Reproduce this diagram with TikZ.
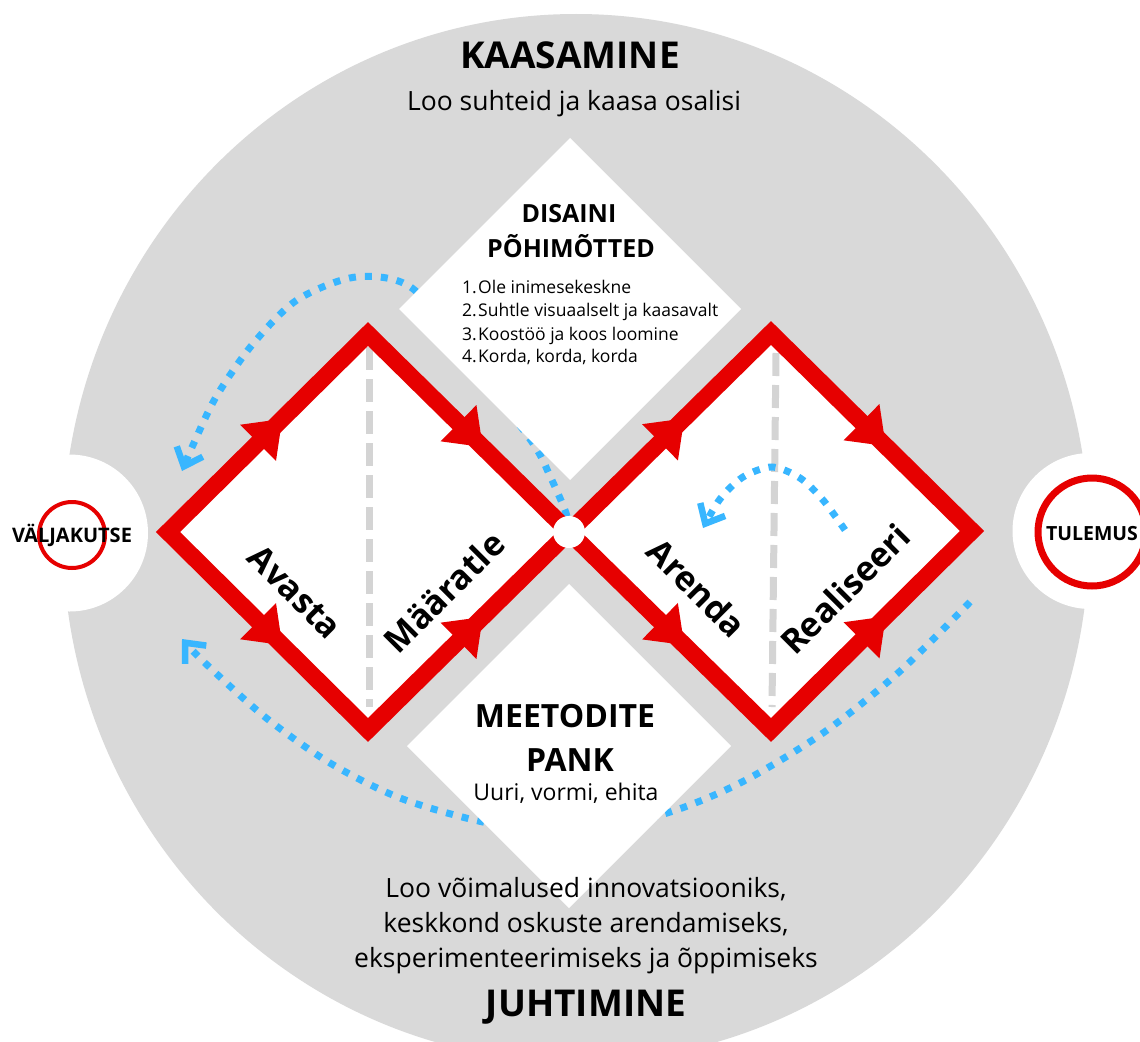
\documentclass[tikz,border=0pt]{standalone}
\usepackage{fontspec}
\setmainfont{Open Sans}
\usetikzlibrary{calc,arrows.meta}
\definecolor{bggray}{HTML}{D9D9D9}
\definecolor{dgray}{HTML}{D4D4D4}
\definecolor{redc}{HTML}{E60000}
\definecolor{bluec}{HTML}{38B6FF}
\newcommand\redtri[2]{%
  \coordinate (m) at ($(#1)!0.5!(#2)$);
  \coordinate (tp) at ($(m)!20pt!(#2)$);
  \coordinate (bs) at ($(m)!-14pt!(#2)$);
  \fill[redc] (tp) -- ($(bs)!25.5pt!90:(#2)$) -- ($(bs)!25.5pt!-90:(#2)$) -- cycle;}
\begin{document}
\begin{tikzpicture}[x=1pt,y=-1pt,
  redline/.style={draw=redc,line width=17pt,miter limit=10},
  dots/.style={draw=bluec,line width=7pt,dash pattern=on 7pt off 9pt},
  chev/.style={-{Straight Barb[length=16pt,width=28pt,line width=6.5pt]}},
  dashv/.style={draw=dgray,line width=7pt,dash pattern=on 23pt off 9pt},
  tbold/.style={font=\bfseries\fontsize{#1}{#1}\selectfont,inner sep=0pt},
  treg/.style={font=\fontsize{#1}{#1}\selectfont,inner sep=0pt},
]
\useasboundingbox (0,0) rectangle (1140,1041);
\fill[white] (0,0) rectangle (1140,1041);
% big gray disc
\fill[bggray] (576,538) ellipse [x radius=513, y radius=524];
% side white discs
\fill[white] (69.5,533) circle [radius=78.5];
\fill[white] (1090.5,531) circle [radius=78];
\node[circle,draw=redc,line width=4pt,minimum size=66pt,inner sep=0pt] (vc) at (72,535) {};
\node[tbold=20,anchor=base] (vt) at (72,542) {VÄLJAKUTSE};
\node[circle,draw=redc,line width=7pt,minimum size=108pt,inner sep=0pt] (tc) at (1092,532) {};
\node[tbold=19.5,anchor=base] (tt) at (1092,540) {TULEMUS};
% diamond vertices
\coordinate (LL) at (168,532);
\coordinate (LT) at (368,334);
\coordinate (LB) at (368,730);
\coordinate (X)  at (569,532);
\coordinate (RT) at (771,333);
\coordinate (RB) at (771,730);
\coordinate (RR) at (972,531);
% blue loops behind the white diamonds
\draw[dots,chev] plot[smooth] coordinates {(X) (566,513) (550,476) (532,442) (470,360) (412,288) (356,277) (297,300) (252,345) (216,397) (193,445) (182,471)};
\draw[dots,chev] plot[smooth] coordinates {(970,602) (898,673) (823,733) (742,782) (667,813) (570,835) (483,822) (400,798) (330,763) (265,717) (205,663) (182,639)};
% white diamonds
\fill[white] (570,138) -- (741,309) -- (570,480) -- (399,309) -- cycle;
\fill[white] (569,584) -- (731,746) -- (569,908) -- (407,746) -- cycle;
% red diamonds
\fill[white] (LL) -- (LT) -- (X) -- (LB) -- cycle;
\fill[white] (X) -- (RT) -- (RR) -- (RB) -- cycle;
\draw[dashv] (369,347) -- (369,707);
\draw[dashv] (776,353) -- (772,707);
\draw[redline] (LL) -- (LT) -- (X) -- (LB) -- cycle;
\draw[redline] (X) -- (RT) -- (RR) -- (RB) -- cycle;
\redtri{LL}{LT}
\redtri{LT}{X}
\redtri{LL}{LB}
\redtri{LB}{X}
\redtri{X}{RT}
\redtri{RT}{RR}
\redtri{X}{RB}
\redtri{RB}{RR}
% inner blue loop
\draw[dots,chev] plot[smooth] coordinates {(845,530) (823,500) (800,478) (772,467) (743,477) (720,499) (703,528)};
\node[circle,fill=white,minimum size=32pt,inner sep=0pt] (xc) at (X) {};
% phase labels
\node[tbold=34,rotate=-45] (avasta) at (295,592) {Avasta};
\node[tbold=34,rotate=45] (maaratle) at (444,592) {Määratle};
\node[tbold=34,rotate=-45] (arenda) at (697,588) {Arenda};
\node[tbold=34,rotate=45] (realiseeri) at (845,589) {Realiseeri};
% top texts
\node[tbold=37,anchor=base] (kaas) at (570,68) {KAASAMINE};
\node[treg=26.5,anchor=base] (kaassub) at (574,110) {Loo suhteid ja kaasa osalisi};
\node[tbold=25,anchor=base] (dis1) at (569,222) {DISAINI};
\node[tbold=25,anchor=base] (dis2) at (571,257) {PÕHIMÕTTED};
\node[treg=17.5,anchor=base west] (n1) at (462,293) {1.};
\node[treg=17.5,anchor=base west] (l1) at (478,293) {Ole inimesekeskne};
\node[treg=17.5,anchor=base west] (n2) at (462,316) {2.};
\node[treg=17.5,anchor=base west] (l2) at (478,316) {Suhtle visuaalselt ja kaasavalt};
\node[treg=17.5,anchor=base west] (n3) at (462,340) {3.};
\node[treg=17.5,anchor=base west] (l3) at (478,340) {Koostöö ja koos loomine};
\node[treg=17.5,anchor=base west] (n4) at (462,362) {4.};
\node[treg=17.5,anchor=base west] (l4) at (478,362) {Korda, korda, korda};
% bottom diamond texts
\node[tbold=32,anchor=base] (met1) at (565,727) {MEETODITE};
\node[tbold=32,anchor=base] (met2) at (570,771) {PANK};
\node[treg=23,anchor=base] (met3) at (566,800) {Uuri, vormi, ehita};
% bottom texts
\node[treg=26.5,anchor=base] (b1) at (586,897) {Loo võimalused innovatsiooniks,};
\node[treg=26.5,anchor=base] (b2) at (586,932) {keskkond oskuste arendamiseks,};
\node[treg=26.5,anchor=base] (b3) at (586,967) {eksperimenteerimiseks ja õppimiseks};
\node[tbold=37,anchor=base] (juht) at (586,1016) {JUHTIMINE};
\end{tikzpicture}
\end{document}
